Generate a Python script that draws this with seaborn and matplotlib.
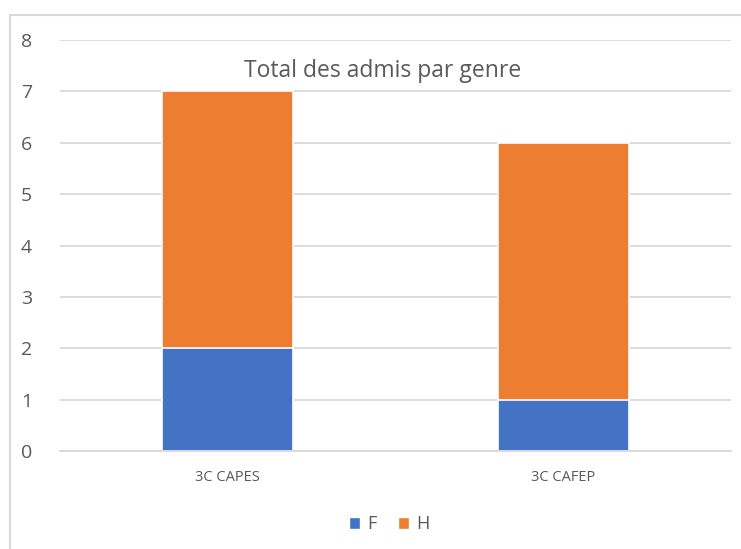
import seaborn as sns
import pandas as pd
import matplotlib.pyplot as plt
from matplotlib.lines import Line2D
from matplotlib.patches import Patch

# values
categories = ['3C CAPES', '3C CAFEP']
femmes = [2, 1]
hommes = [5, 5]

blue = '#4472C4'
orange = '#ED7D31'
grey_txt = '#595959'

sns.set_style('white')
plt.rcParams['font.family'] = ['Open Sans', 'DejaVu Sans']

df = pd.DataFrame({'categorie': categories, 'F': femmes, 'H': hommes})
df['total'] = df['F'] + df['H']

fig = plt.figure(figsize=(7.41, 5.49), dpi=100)
ax = fig.add_axes([0.081, 0.1785, 0.906, 0.7486])

# stacked bars: total in orange, then F drawn over it
sns.barplot(data=df, x='categorie', y='total', color=orange, width=0.39,
            saturation=1, edgecolor='white', linewidth=1.2, ax=ax, zorder=3)
sns.barplot(data=df, x='categorie', y='F', color=blue, width=0.39,
            saturation=1, edgecolor='white', linewidth=1.2, ax=ax, zorder=4)

ax.set_xlim(-0.5, 1.5)
ax.set_ylim(0, 8)
ax.set_yticks(range(0, 9))
ax.set_xlabel('')
ax.set_ylabel('')
ax.grid(axis='y', color='#d9d9d9', linewidth=1.3, zorder=0)
ax.set_axisbelow(True)

for s in ['top', 'right', 'left']:
    ax.spines[s].set_visible(False)
ax.spines['bottom'].set_color('#d9d9d9')
ax.spines['bottom'].set_linewidth(1.3)
ax.spines['bottom'].set_zorder(5)

ax.tick_params(axis='y', length=0, pad=20, labelsize=14, labelcolor=grey_txt)
ax.tick_params(axis='x', which='major', length=0, pad=14, labelsize=10.5,
               labelcolor=grey_txt)
ax.set_xticks([-0.5, 0.5, 1.5], minor=True)
ax.tick_params(axis='x', which='minor', length=7, width=1.3, color='#d9d9d9',
               direction='out')

ax.text(0.46, 7.4, 'Total des admis par genre', ha='center', va='center',
        fontsize=16.5, color=grey_txt, zorder=6)

handles = [Patch(facecolor=blue, label='F'), Patch(facecolor=orange, label='H')]
fig.legend(handles=handles, loc='center', bbox_to_anchor=(0.525, 0.045), ncol=2,
           frameon=False, fontsize=13, handlelength=0.6, handleheight=0.6,
           handletextpad=0.4, columnspacing=1.2, labelcolor=grey_txt)

# outer frame (left and top edges visible in the original)
fig.add_artist(Line2D([10 / 741, 10 / 741], [0, 1 - 15 / 549], color='#d9d9d9',
                      linewidth=1.5, transform=fig.transFigure))
fig.add_artist(Line2D([10 / 741, 1], [1 - 15 / 549, 1 - 15 / 549], color='#d9d9d9',
                      linewidth=1.5, transform=fig.transFigure))

fig.savefig('out.png', dpi=100)
